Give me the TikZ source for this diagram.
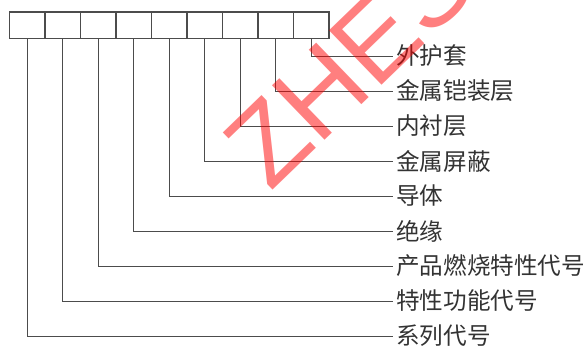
\documentclass[tikz,border=0pt]{standalone}
\usepackage{fontspec}
\newfontfamily\cjk{Noto Sans CJK SC}
\newfontfamily\wmfont{Liberation Sans}
\begin{document}
\begin{tikzpicture}[x=1pt,y=-1pt,
  cell/.style={draw=black!70,line width=1.1pt,minimum width=35.5pt,minimum height=26.5pt,inner sep=0pt,outer sep=0pt,anchor=north west},
  lbl/.style={anchor=west,inner sep=0pt,font=\cjk\fontsize{23.6}{26}\selectfont,text=black!80},
  lead/.style={draw=black!70,line width=1pt}]
\useasboundingbox (0,0) rectangle (588,345);
\clip (0,0) rectangle (588,345);
\foreach \i in {1,...,9}{
  \node[cell] (b\i) at ({9.5+35.5*(\i-1)},12) {};
}
\foreach \i/\t in {1/系列代号,2/特性功能代号,3/产品燃烧特性代号,4/绝缘,5/导体,6/金属屏蔽,7/内衬层,8/金属铠装层,9/外护套}{
  \node[lbl] (l\i) at (396,{336-35*(\i-1)}) {\t};
  \coordinate (e\i) at (393,{336-35*(\i-1)});
  \draw[lead] (b\i.south) |- (e\i);
}
\node[anchor=base west,rotate=44,inner sep=0pt,text=red,text opacity=0.5,
  font=\wmfont\fontsize{110}{110}\selectfont] (wm) at (270,193) {ZHES};
\end{tikzpicture}
\end{document}
